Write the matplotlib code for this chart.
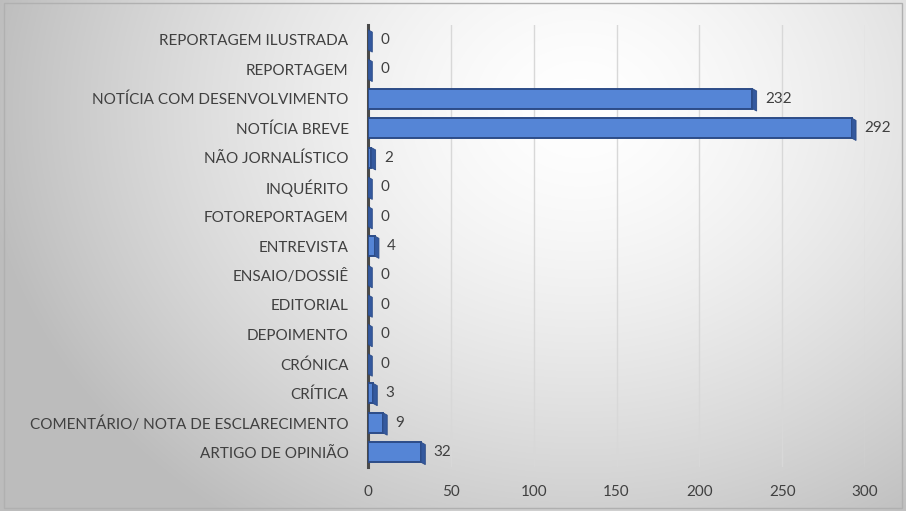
import numpy as np
import matplotlib
matplotlib.use('Agg')
import matplotlib.pyplot as plt
from matplotlib.patches import Polygon, Rectangle

plt.rcParams['font.family'] = ['Lato', 'DejaVu Sans']

categories = ['REPORTAGEM ILUSTRADA', 'REPORTAGEM', 'NOTÍCIA COM DESENVOLVIMENTO',
              'NOTÍCIA BREVE', 'NÃO JORNALÍSTICO', 'INQUÉRITO', 'FOTOREPORTAGEM',
              'ENTREVISTA', 'ENSAIO/DOSSIÊ', 'EDITORIAL', 'DEPOIMENTO', 'CRÓNICA',
              'CRÍTICA', 'COMENTÁRIO/ NOTA DE ESCLARECIMENTO', 'ARTIGO DE OPINIÃO']
counts = [0, 0, 232, 292, 2, 0, 0, 4, 0, 0, 0, 0, 3, 9, 32]
xticks = [0, 50, 100, 150, 200, 250, 300]

FRONT = '#5585d6'
EDGE = '#2c4c88'
SIDE = '#34599e'
TEXT = '#404040'

fig = plt.figure(figsize=(9.06, 5.11), dpi=100)

# soft radial background
bg = fig.add_axes([0, 0, 1, 1], zorder=-10)
yy, xx = np.mgrid[0:511, 0:906]
r = np.sqrt(((xx - 580) / 600.0) ** 2 + ((yy - 110) / 500.0) ** 2)
shade = np.clip(1.0 - 0.26 * r ** 1.5, 0.74, 1.0)
bg.imshow(np.dstack([shade, shade, shade]), aspect='auto', extent=[0, 1, 0, 1])
bg.add_patch(Rectangle((0.004, 0.006), 0.992, 0.988, transform=bg.transAxes,
                       fill=False, edgecolor='#b0b0b0', lw=1))
bg.axis('off')

ax = fig.add_axes([368 / 906, 1 - 467 / 511, (865 - 368) / 906, (467 - 25) / 511])
ax.patch.set_alpha(0)

y = np.arange(len(categories))
h = 0.68
depth_x = 2.6
depth_y = 0.08
ax.barh(y, counts, height=h, color=FRONT, edgecolor=EDGE, linewidth=1.4, zorder=3)
for yi, v in zip(y, counts):
    # right-hand face of each bar
    side = Polygon([(v, yi - h / 2), (v + depth_x, yi - h / 2 + depth_y),
                    (v + depth_x, yi + h / 2 + depth_y), (v, yi + h / 2)],
                   closed=True, facecolor=SIDE, edgecolor=EDGE, lw=0.6, zorder=4)
    ax.add_patch(side)
    ax.text(v + depth_x + 5, yi, str(v), va='center', ha='left',
            fontsize=11, color=TEXT, zorder=5)

ax.set_ylim(len(categories) - 0.5, -0.5)
ax.set_xlim(0, 300)
ax.set_yticks(y)
ax.set_yticklabels(categories)
ax.set_xticks(xticks)
ax.tick_params(axis='y', length=0, pad=14, labelsize=11, labelcolor=TEXT)
ax.tick_params(axis='x', length=0, pad=13, labelsize=11, labelcolor=TEXT)
ax.xaxis.grid(True, color='#d8d8d8', lw=1, zorder=0)
ax.set_axisbelow(True)
for s in ['top', 'right', 'bottom']:
    ax.spines[s].set_visible(False)
ax.spines['left'].set_color('#4a4a4a')
ax.spines['left'].set_linewidth(2.2)

fig.savefig('out.png', dpi=100)
